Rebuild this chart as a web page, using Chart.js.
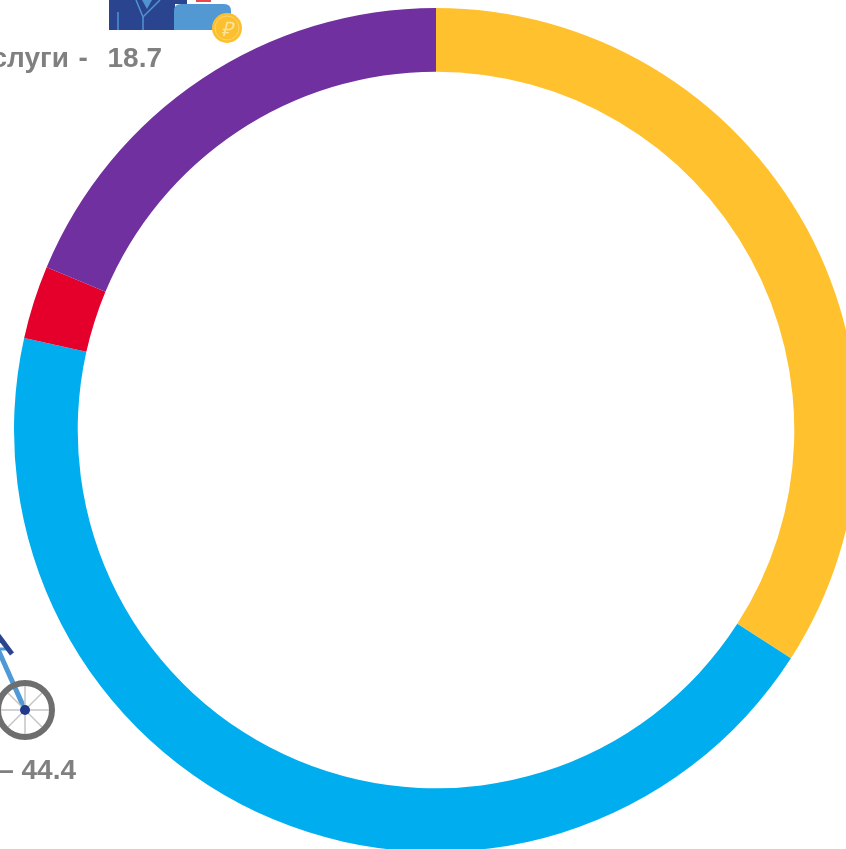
<!DOCTYPE html>
<html>
<head>
<meta charset="utf-8">
<script src="https://cdn.jsdelivr.net/npm/chart.js@4"></script>
<style>
  html, body { margin: 0; padding: 0; background: #fff; overflow: hidden; width: 846px; height: 849px; }
  #wrap { position: absolute; left: 0; top: 0; width: 846px; height: 849px; overflow: hidden; }
  #myChart { position: absolute; left: 0; top: 0; }
  .lbl { position: absolute; font: bold 28px "Liberation Sans", Arial, sans-serif; color: #808080; white-space: pre; text-align: right; }
  svg { position: absolute; left: 0; top: 0; }
</style>
</head>
<body>
<div id="wrap">
  <canvas id="myChart" width="872" height="860"></canvas>

  <!-- icons cut off by the picture edge -->
  <svg width="846" height="849">
    <rect x="109" y="0" width="66" height="30" fill="#2a4490"/>
    <rect x="175" y="0" width="12" height="4" fill="#2a4490"/>
    <path d="M118 12 V30 M143 17 V30" stroke="#4f94cf" stroke-width="1.5" fill="none"/>
    <path d="M142 0 L147 9 L152 0 Z" fill="#4f94cf"/>
    <path d="M136 0 L143 17 L160 0" stroke="#4f94cf" stroke-width="1.5" fill="none"/>
    <rect x="196" y="0" width="15" height="2" fill="#e5484d"/>
    <path d="M174 30 V11 Q174 4 181 4 H224 Q231 4 231 11 V30 Z" fill="#5298d2"/>
    <circle cx="227" cy="28" r="15" fill="#fcc02e"/>
    <circle cx="227" cy="28" r="12" fill="none" stroke="#fdd56f" stroke-width="1"/>
    <text x="0" y="0" transform="translate(227 36) skewX(-14)" text-anchor="middle" font-family="Liberation Sans" font-size="20" fill="#fde29a">₽</text>

    <line x1="-5" y1="649" x2="8" y2="649" stroke="#4f9ad6" stroke-width="3"/>
    <line x1="25" y1="710" x2="-4" y2="645" stroke="#4f9ad6" stroke-width="5"/>
    <line x1="-3" y1="634" x2="12" y2="654" stroke="#2a4490" stroke-width="5"/>
    <g stroke="#c4c4c4" stroke-width="1.5">
      <line x1="25" y1="683" x2="25" y2="737"/>
      <line x1="-2" y1="710" x2="52" y2="710"/>
      <line x1="6" y1="691" x2="44" y2="729"/>
      <line x1="6" y1="729" x2="44" y2="691"/>
    </g>
    <circle cx="25" cy="710" r="27" fill="none" stroke="#6e6e6e" stroke-width="6"/>
    <circle cx="25" cy="710" r="5" fill="#20398a"/>
  </svg>

  <div class="lbl" style="right:684px; top:42px; word-spacing:2px;">Услуги -  18.7</div>
  <div class="lbl" style="right:770px; top:754px;">– 44.4</div>
</div>

<script>
// Shares, clockwise from the top
let categories = ['Сегмент 1', 'Сегмент 2', 'Сегмент 3', 'Услуги'];
let shares = [34.1, 44.4, 2.8, 18.7];
let colors = ['#FFC22E', '#00AEEF', '#E4002B', '#7030A0'];

let ctx = document.getElementById('myChart').getContext('2d');
let chart = new Chart(ctx, {
    type: 'doughnut',
    data: {
        labels: categories,
        datasets: [{
            data: shares,
            backgroundColor: colors,
            borderWidth: 0
        }]
    },
    options: {
        responsive: false,
        animation: false,
        radius: 422,
        cutout: '84.9%',
        plugins: {
            legend: { display: false },
            tooltip: { enabled: false }
        }
    }
});
</script>
</body>
</html>
